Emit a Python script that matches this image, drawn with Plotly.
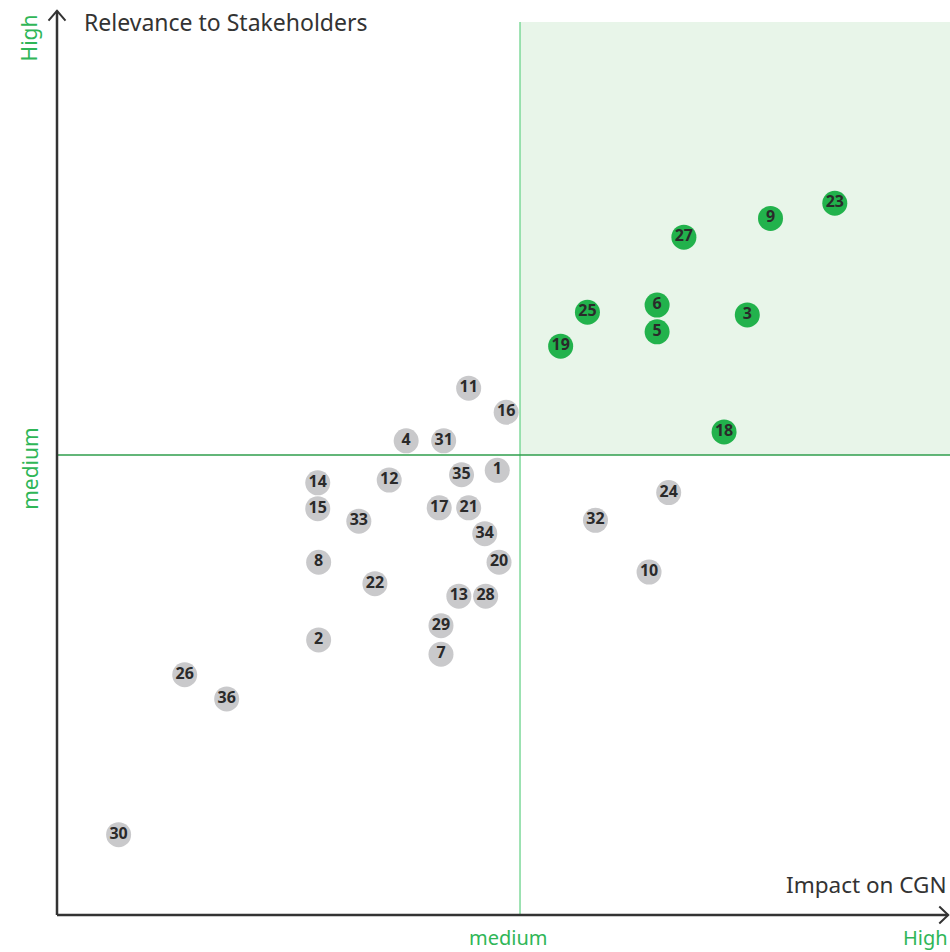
import plotly.graph_objects as go

# Materiality matrix: topic id, impact on CGN (x), relevance to stakeholders (y)
topic_ids = [23, 9, 27, 6, 25, 3, 5, 19, 18,
             11, 16, 4, 31, 1, 35, 14, 12, 15, 33, 17, 21, 34,
             8, 20, 22, 13, 28, 29, 7, 2, 26, 36, 30, 24, 32, 10]
impact = [8.71, 7.99, 7.02, 6.72, 5.94, 7.73, 6.72, 5.64, 7.47,
          4.61, 5.03, 3.91, 4.33, 4.93, 4.53, 2.92, 3.72, 2.92, 3.38, 4.28, 4.61, 4.79,
          2.93, 4.95, 3.56, 4.50, 4.80, 4.30, 4.30, 2.93, 1.43, 1.90, 0.69, 6.85, 6.03, 6.63]
relevance = [7.97, 7.80, 7.59, 6.83, 6.75, 6.72, 6.53, 6.37, 5.41,
             5.90, 5.63, 5.31, 5.31, 4.98, 4.93, 4.84, 4.87, 4.55, 4.41, 4.56, 4.56, 4.27,
             3.95, 3.95, 3.71, 3.57, 3.57, 3.24, 2.92, 3.08, 2.69, 2.42, 0.90, 4.73, 4.42, 3.84]

x_title = "Impact on CGN"
y_title = "Relevance to Stakeholders"
level_labels = ["medium", "High"]
mid_x, mid_y = 5.185, 5.15
axis_max = 10.0

GREEN = "#22b24c"
GREEN_TEXT = "#2fb657"
GREY = "#c9c9cb"
DARK = "#333333"
FONT = "Noto Sans"

colors = [GREEN if (x > mid_x and y > mid_y) else GREY for x, y in zip(impact, relevance)]

fig = go.Figure()
fig.add_trace(go.Scatter(
    x=impact, y=relevance, mode="markers+text",
    text=[f"<b>{t}</b>" for t in topic_ids],
    textposition="middle center",
    textfont=dict(family=FONT, size=16, color="#2a2a2a"),
    marker=dict(size=25, color=colors, line=dict(width=0)),
    hoverinfo="skip", showlegend=False, cliponaxis=False,
))

shapes = [
    # priority quadrant
    dict(type="rect", xref="x", yref="y", x0=mid_x, x1=axis_max, y0=mid_y, y1=axis_max,
         fillcolor="#e8f5e9", line=dict(width=0), layer="below"),
    # threshold lines
    dict(type="line", xref="x", yref="y", x0=mid_x, x1=mid_x, y0=0, y1=axis_max,
         line=dict(color="#7ed99a", width=1.5), layer="below"),
    dict(type="line", xref="x", yref="y", x0=0, x1=axis_max, y0=mid_y, y1=mid_y,
         line=dict(color="#2f9e4c", width=1.5), layer="below"),
    # axes with arrows
    dict(type="line", xref="paper", yref="paper", x0=0, x1=0, y0=0, y1=1.0125,
         line=dict(color=DARK, width=2.5)),
    dict(type="path", xref="paper", yref="paper",
         path="M -0.0095,1.0015 L 0,1.0125 L 0.0095,1.0015",
         line=dict(color=DARK, width=2)),
    dict(type="line", xref="paper", yref="paper", x0=0, x1=0.998, y0=0, y1=0,
         line=dict(color=DARK, width=2.5)),
    dict(type="path", xref="paper", yref="paper",
         path="M 0.988,0.0095 L 0.998,0 L 0.988,-0.0095",
         line=dict(color=DARK, width=2)),
]

annotations = [
    dict(text=y_title, xref="paper", yref="paper", x=0.028, y=1.0, xanchor="left", yanchor="middle",
         showarrow=False, font=dict(family=FONT, size=23, color=DARK)),
    dict(text=x_title, xref="paper", yref="paper", x=0.999, y=0.034, xanchor="right", yanchor="middle",
         showarrow=False, font=dict(family=FONT, size=22.5, color=DARK)),
    # level labels on x axis
    dict(text=level_labels[0], xref="x", yref="paper", x=mid_x - 0.13, y=-0.0255, xanchor="center",
         yanchor="middle", showarrow=False, font=dict(family=FONT, size=20, color=GREEN_TEXT)),
    dict(text=level_labels[1], xref="x", yref="paper", x=axis_max, y=-0.0255, xanchor="right",
         yanchor="middle", showarrow=False, font=dict(family=FONT, size=20, color=GREEN_TEXT)),
    # level labels on y axis
    dict(text=level_labels[0], xref="paper", yref="y", x=-0.031, y=mid_y - 0.15, xanchor="center",
         yanchor="middle", textangle=-90, showarrow=False,
         font=dict(family=FONT, size=21, color=GREEN_TEXT)),
    dict(text=level_labels[1], xref="paper", yref="y", x=-0.031, y=axis_max - 0.18, xanchor="center",
         yanchor="middle", textangle=-90, showarrow=False,
         font=dict(family=FONT, size=21, color=GREEN_TEXT)),
]

fig.update_layout(
    width=950, height=952,
    margin=dict(l=57, r=0, t=22, b=37),
    paper_bgcolor="white", plot_bgcolor="white",
    xaxis=dict(range=[0, axis_max], showgrid=False, zeroline=False, showline=False,
               showticklabels=False, ticks="", fixedrange=True),
    yaxis=dict(range=[0, axis_max], showgrid=False, zeroline=False, showline=False,
               showticklabels=False, ticks="", fixedrange=True),
    shapes=shapes, annotations=annotations,
)

fig.write_html("out.html")
